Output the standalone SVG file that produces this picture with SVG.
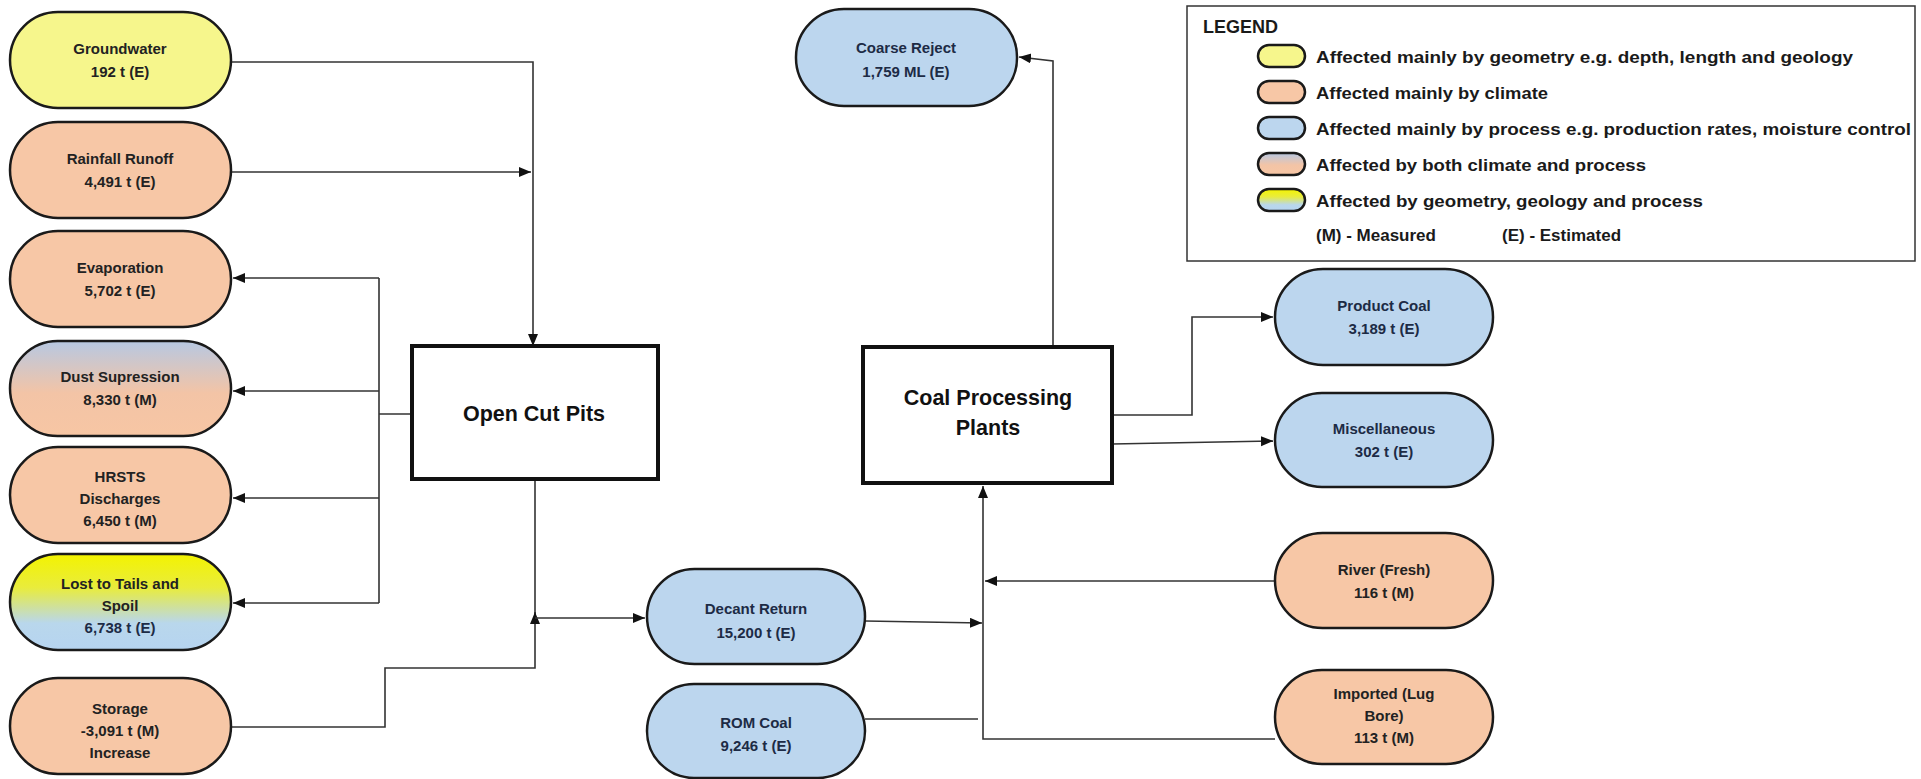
<svg xmlns="http://www.w3.org/2000/svg" width="1921" height="779" viewBox="0 0 1921 779">
<style>
.pill{stroke:#1a1a1a;stroke-width:2.5}
.y{fill:#f6f68c}
.o{fill:#f7c7a6}
.b{fill:#bcd6ee}
.box{fill:#fff;stroke:#111;stroke-width:4}
.lbl{font-family:"Liberation Sans",Arial,sans-serif;font-weight:bold;font-size:15px;fill:#222;text-anchor:middle}
.bl{fill:#1d2b45}
.big{font-family:"Liberation Sans",Arial,sans-serif;font-weight:bold;font-size:21.5px;fill:#111;text-anchor:middle}
.con{fill:none;stroke:#333;stroke-width:1.6}
.arr{marker-end:url(#ah)}
.lg{font-family:"Liberation Sans",Arial,sans-serif;font-weight:bold;font-size:17px;fill:#1a1a1a}
</style>
<defs>
<marker id="ah" markerUnits="userSpaceOnUse" markerWidth="13" markerHeight="11" refX="12" refY="5" orient="auto">
<path d="M0,0 L12,5 L0,10 z" fill="#111"/>
</marker>
<linearGradient id="gDust" x1="0" y1="0" x2="0" y2="1">
<stop offset="0" stop-color="#b7c8e2"/>
<stop offset="0.55" stop-color="#f3c4a6"/>
<stop offset="1" stop-color="#f7c6a4"/>
</linearGradient>
<linearGradient id="gLost" x1="0" y1="0" x2="0" y2="1">
<stop offset="0" stop-color="#f3f300"/>
<stop offset="0.35" stop-color="#e9ec3c"/>
<stop offset="0.72" stop-color="#b9d7ec"/>
<stop offset="1" stop-color="#b6d4f0"/>
</linearGradient>
</defs>
<rect width="1921" height="779" fill="#fff"/>

<g id="connectors">
<path class="con arr" d="M231,62 H533 V346"/>
<path class="con arr" d="M231,172 H531"/>
<path class="con" d="M379,278 V603 M412,414 H379"/>
<path class="con arr" d="M379,278 H233"/>
<path class="con arr" d="M379,391 H233"/>
<path class="con arr" d="M379,498 H233"/>
<path class="con arr" d="M379,603 H233"/>
<path class="con" d="M535,480 V618"/>
<path class="con arr" d="M231,727 H385 V668 H535 V612"/>
<path class="con arr" d="M535,618 H645"/>
<path class="con arr" d="M865,621 L982,623"/>
<path class="con" d="M865,719 H978"/>
<path class="con arr" d="M1275,739 H983 V486"/>
<path class="con arr" d="M1277,581 H985"/>
<path class="con arr" d="M1053,347 V61 L1019,57"/>
<path class="con arr" d="M1112,415 H1192 V317 H1273"/>
<path class="con arr" d="M1112,444 L1273,441"/>
</g>

<g id="groundwater">
<rect class="pill y" x="10" y="12" width="221" height="96" rx="48"/>
<text class="lbl" x="120" y="54">Groundwater</text>
<text class="lbl" x="120" y="77">192 t (E)</text>
</g>
<g id="rainfall-runoff">
<rect class="pill o" x="10" y="122" width="221" height="96" rx="48"/>
<text class="lbl" x="120" y="164">Rainfall Runoff</text>
<text class="lbl" x="120" y="187">4,491 t (E)</text>
</g>
<g id="evaporation">
<rect class="pill o" x="10" y="231" width="221" height="96" rx="48"/>
<text class="lbl" x="120" y="273">Evaporation</text>
<text class="lbl" x="120" y="296">5,702 t (E)</text>
</g>
<g id="dust-supression">
<rect class="pill" fill="url(#gDust)" x="10" y="341" width="221" height="95" rx="47.5"/>
<text class="lbl" x="120" y="382">Dust Supression</text>
<text class="lbl" x="120" y="405">8,330 t (M)</text>
</g>
<g id="hrsts-discharges">
<rect class="pill o" x="10" y="447" width="221" height="96" rx="48"/>
<text class="lbl" x="120" y="482">HRSTS</text>
<text class="lbl" x="120" y="504">Discharges</text>
<text class="lbl" x="120" y="526">6,450 t (M)</text>
</g>
<g id="lost-to-tails">
<rect class="pill" fill="url(#gLost)" x="10" y="554" width="221" height="96" rx="48"/>
<text class="lbl" x="120" y="589">Lost to Tails and</text>
<text class="lbl" x="120" y="611">Spoil</text>
<text class="lbl bl" x="120" y="633">6,738 t (E)</text>
</g>
<g id="storage">
<rect class="pill o" x="10" y="678" width="221" height="96" rx="48"/>
<text class="lbl" x="120" y="714">Storage</text>
<text class="lbl" x="120" y="736">-3,091 t (M)</text>
<text class="lbl" x="120" y="758">Increase</text>
</g>

<g id="open-cut-pits">
<rect class="box" x="412" y="346" width="246" height="133"/>
<text class="big" x="534" y="421">Open Cut Pits</text>
</g>
<g id="coal-processing-plants">
<rect class="box" x="863" y="347" width="249" height="136"/>
<text class="big" x="988" y="405">Coal Processing</text>
<text class="big" x="988" y="435">Plants</text>
</g>

<g id="coarse-reject">
<rect class="pill b" x="796" y="9" width="221" height="97" rx="48"/>
<text class="lbl bl" x="906" y="53">Coarse Reject</text>
<text class="lbl bl" x="906" y="77">1,759 ML (E)</text>
</g>
<g id="decant-return">
<rect class="pill b" x="647" y="569" width="218" height="95" rx="47.5"/>
<text class="lbl bl" x="756" y="614">Decant Return</text>
<text class="lbl bl" x="756" y="638">15,200 t (E)</text>
</g>
<g id="rom-coal">
<rect class="pill b" x="647" y="684" width="218" height="94" rx="47"/>
<text class="lbl bl" x="756" y="728">ROM Coal</text>
<text class="lbl bl" x="756" y="751">9,246 t (E)</text>
</g>
<g id="product-coal">
<rect class="pill b" x="1275" y="269" width="218" height="96" rx="48"/>
<text class="lbl bl" x="1384" y="311">Product Coal</text>
<text class="lbl bl" x="1384" y="334">3,189 t (E)</text>
</g>
<g id="miscellaneous">
<rect class="pill b" x="1275" y="393" width="218" height="94" rx="47"/>
<text class="lbl bl" x="1384" y="434">Miscellaneous</text>
<text class="lbl bl" x="1384" y="457">302 t (E)</text>
</g>
<g id="river-fresh">
<rect class="pill o" x="1275" y="533" width="218" height="95" rx="47.5"/>
<text class="lbl" x="1384" y="575">River (Fresh)</text>
<text class="lbl" x="1384" y="598">116 t (M)</text>
</g>
<g id="imported-lug-bore">
<rect class="pill o" x="1275" y="670" width="218" height="94" rx="47"/>
<text class="lbl" x="1384" y="699">Imported (Lug</text>
<text class="lbl" x="1384" y="721">Bore)</text>
<text class="lbl" x="1384" y="743">113 t (M)</text>
</g>

<g id="legend">
<rect x="1187" y="6" width="728" height="255" fill="#fff" stroke="#333" stroke-width="1.5"/>
<text class="lg" x="1203" y="33" style="font-size:18px">LEGEND</text>
<rect class="pill y" x="1258" y="45" width="47" height="22" rx="11"/>
<rect class="pill o" x="1258" y="81" width="47" height="22" rx="11"/>
<rect class="pill b" x="1258" y="117" width="47" height="22" rx="11"/>
<rect class="pill" fill="url(#gDust)" x="1258" y="153" width="47" height="22" rx="11"/>
<rect class="pill" fill="url(#gLost)" x="1258" y="189" width="47" height="22" rx="11"/>
<text class="lg" x="1316" y="63" textLength="537" lengthAdjust="spacingAndGlyphs">Affected mainly by geometry e.g. depth, length and geology</text>
<text class="lg" x="1316" y="99" textLength="232" lengthAdjust="spacingAndGlyphs">Affected mainly by climate</text>
<text class="lg" x="1316" y="135" textLength="595" lengthAdjust="spacingAndGlyphs">Affected mainly by process e.g. production rates, moisture control</text>
<text class="lg" x="1316" y="171" textLength="330" lengthAdjust="spacingAndGlyphs">Affected by both climate and process</text>
<text class="lg" x="1316" y="207" textLength="387" lengthAdjust="spacingAndGlyphs">Affected by geometry, geology and process</text>
<text class="lg" x="1316" y="241">(M) - Measured</text>
<text class="lg" x="1502" y="241">(E) - Estimated</text>
</g>
</svg>
